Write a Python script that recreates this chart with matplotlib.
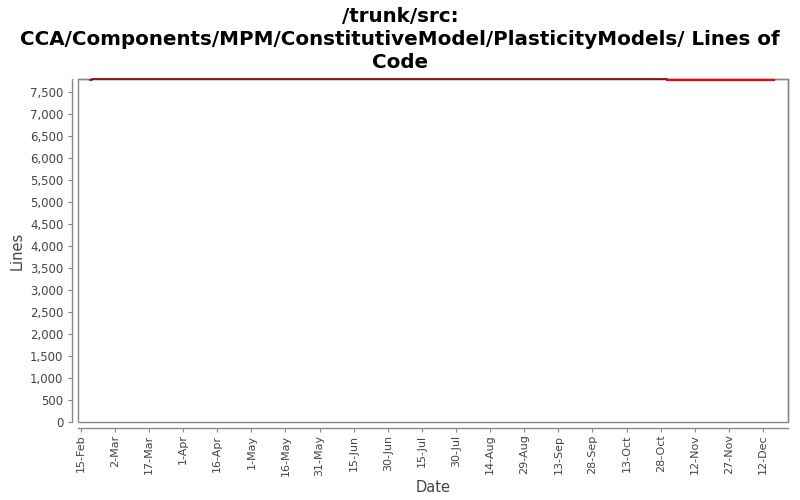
import pandas as pd
import numpy as np
import matplotlib
matplotlib.use('Agg')
import matplotlib.pyplot as plt
import matplotlib.dates as mdates
from matplotlib.ticker import FuncFormatter
from matplotlib.patches import Rectangle

# lines of code, older period (dark red) and latest period (red)
old_dates = pd.to_datetime(['2007-02-19', '2007-02-20', '2007-10-31'])
old_lines = [7770, 7792, 7792]
new_dates = pd.to_datetime(['2007-10-31', '2007-12-17'])
new_lines = [7778, 7778]

tick_dates = pd.date_range('2007-02-15', periods=21, freq='15D')
y_ticks = np.arange(0, 8000, 500)

fig = plt.figure(figsize=(8, 5), dpi=100)
ax = fig.add_axes([0.0975, 0.156, 0.8875, 0.686])

ax.plot(old_dates, old_lines, color='#8b0000', lw=1.2, drawstyle='steps-post',
        zorder=5, clip_on=False)
ax.plot(new_dates, new_lines, color='#ff0000', lw=1.6, zorder=5, clip_on=False)

ax.set_xlim(pd.Timestamp('2007-02-13 18:00'), pd.Timestamp('2007-12-23'))
ax.set_ylim(0, 7800)

ax.set_xticks(tick_dates)
ax.xaxis.set_major_formatter(mdates.DateFormatter('%-d-%b'))
ax.set_yticks(y_ticks)
ax.yaxis.set_major_formatter(FuncFormatter(lambda v, p: f'{int(v):,}'))

ax.tick_params(colors='#888888', labelcolor='#444444', labelsize=8.5,
               length=3, width=0.8)
ax.tick_params(axis='x', labelrotation=90, labelsize=8, pad=2)

for s in ['left', 'bottom']:
    ax.spines[s].set_position(('outward', 4))
for s in ax.spines.values():
    s.set_color('#888888')
    s.set_linewidth(1)
ax.add_patch(Rectangle((0, 0), 1, 1, transform=ax.transAxes, fill=False,
                       edgecolor='#888888', lw=1, clip_on=False, zorder=1))

ax.set_xlabel('Date', fontsize=10.5, color='#444444', labelpad=3)
ax.set_ylabel('Lines', fontsize=10.5, color='#444444', labelpad=4)

fig.suptitle('/trunk/src:\nCCA/Components/MPM/ConstitutiveModel/PlasticityModels/ Lines of\nCode',
             fontsize=14.3, fontweight='bold', y=0.985, linespacing=1.25)

fig.savefig('out.png', dpi=100)
